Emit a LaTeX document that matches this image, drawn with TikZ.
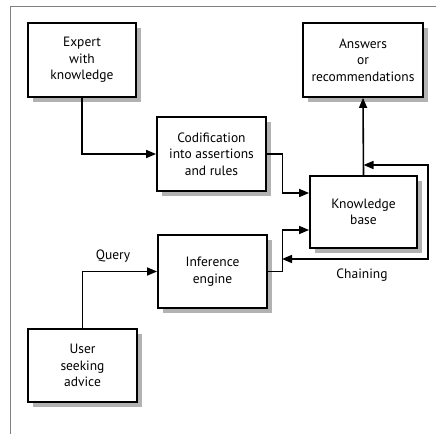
\documentclass[tikz,border=0pt]{standalone}
\usepackage{fontspec}
\setmainfont{PT Sans}
\usetikzlibrary{arrows.meta,shadows}
\begin{document}
\begin{tikzpicture}[x=1pt,y=-1pt,
  box/.style={draw=black,line width=1.8pt,fill=white,align=center,
    inner sep=0pt,font=\fontsize{13.5}{16.5}\selectfont,
    drop shadow={shadow xshift=5pt,shadow yshift=-5pt,fill=black!30,opacity=1}},
  arr/.style={line width=1.6pt,-{Triangle[length=10pt,width=8pt]}},
  arrboth/.style={line width=1.6pt,{Triangle[length=10pt,width=8pt]}-{Triangle[length=10pt,width=8pt]}},
  lbl/.style={font=\fontsize{13.5}{15}\selectfont,inner sep=0pt}]
\useasboundingbox (0,0) rectangle (436,434);
\draw[black!50,line width=0.8pt] (10,434) -- (10,6) -- (436,6);
\node[box,minimum width=108pt,minimum height=74pt] (expert) at (82,60) {Expert\\with\\knowledge};
\node[box,minimum width=120pt,minimum height=74pt] (ans) at (363,60) {Answers\\or\\recommendations};
\node[box,minimum width=109pt,minimum height=74pt] (codif) at (211.5,154) {Codification\\into assertions\\and rules};
\node[box,minimum width=107pt,minimum height=72pt] (kb) at (363.5,212) {Knowledge\\base};
\node[box,minimum width=109pt,minimum height=73pt] (inf) at (212.5,271.5) {Inference\\engine};
\node[box,minimum width=109pt,minimum height=73pt] (user) at (82.5,365.5) {User\\seeking\\advice};
\coordinate (mid) at (363.5,165);
\coordinate (loopA) at (428,165);
\coordinate (loopB) at (428,259);
\coordinate (chainEnd) at (282,259);
\draw[arr] (expert.south) |- (codif.west);
\draw[arr] (codif.east) -- ++(15.5,0) |- ([yshift=19pt]kb.west);
\draw[arr] (inf.east) -- ++(14.5,0) |- ([yshift=-18pt]kb.west);
\draw[arr] (kb.north) -- (ans.south);
\draw[arrboth] (mid) -- (loopA) -- (loopB) -- (chainEnd);
\draw[arr] (user.north) |- (inf.west);
\node[lbl] (query) at (113,256) {Query};
\node[lbl] (chain) at (362,275) {Chaining};
\end{tikzpicture}
\end{document}
